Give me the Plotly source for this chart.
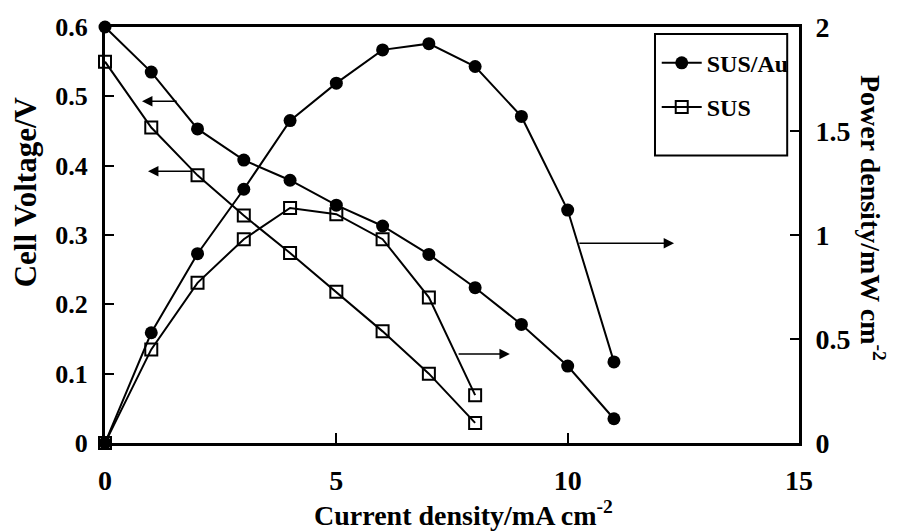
import plotly.graph_objects as go

# Current density (mA cm^-2)
current_au = [0, 1, 2, 3, 4, 5, 6, 7, 8, 9, 10, 11]
current_sus = [0, 1, 2, 3, 4, 5, 6, 7, 8]

# Cell voltage (V)
voltage_au = [0.60, 0.535, 0.453, 0.408, 0.379, 0.343, 0.313, 0.272, 0.224, 0.171, 0.111, 0.035]
voltage_sus = [0.55, 0.455, 0.386, 0.328, 0.274, 0.218, 0.161, 0.100, 0.029]

# Power density (mW cm^-2)
power_au = [0.0, 0.53, 0.91, 1.22, 1.55, 1.73, 1.89, 1.92, 1.81, 1.57, 1.12, 0.39]
power_sus = [0.0, 0.45, 0.77, 0.98, 1.13, 1.10, 0.98, 0.70, 0.23]

x_ticks = [0, 5, 10, 15]
y_ticks = [0, 0.1, 0.2, 0.3, 0.4, 0.5, 0.6]
y2_ticks = [0, 0.5, 1, 1.5, 2]
y2_labels = ["0", "0.5", "1", "1.5", "2"]

FONT = "Liberation Serif"
BLACK = "#000000"

au_marker = dict(symbol="circle", size=13, color=BLACK)
sus_marker = dict(symbol="square-open", size=12, color=BLACK, line=dict(width=2, color=BLACK))
line_style = dict(color=BLACK, width=2)

fig = go.Figure()
fig.add_trace(go.Scatter(x=current_au, y=voltage_au, mode="lines+markers", name="SUS/Au",
                         legendgroup="au", marker=au_marker, line=line_style, cliponaxis=False))
fig.add_trace(go.Scatter(x=current_au, y=power_au, mode="lines+markers", name="SUS/Au",
                         legendgroup="au", showlegend=False, yaxis="y2",
                         marker=au_marker, line=line_style, cliponaxis=False))
fig.add_trace(go.Scatter(x=current_sus, y=voltage_sus, mode="lines+markers", name="SUS",
                         legendgroup="sus", marker=sus_marker, line=line_style, cliponaxis=False))
fig.add_trace(go.Scatter(x=current_sus, y=power_sus, mode="lines+markers", name="SUS",
                         legendgroup="sus", showlegend=False, yaxis="y2",
                         marker=sus_marker, line=line_style, cliponaxis=False))

left_tick_font = dict(family=FONT, size=26, color=BLACK, weight="bold")
tick_font = dict(family=FONT, size=28, color=BLACK, weight="bold")
title_font = dict(family=FONT, size=28, color=BLACK, weight="bold")

fig.update_layout(
    width=901, height=531,
    margin=dict(l=105, r=102, t=22, b=88),
    paper_bgcolor="white", plot_bgcolor="white",
    showlegend=True,
    legend=dict(x=0.795, y=0.967, xanchor="left", yanchor="top",
                font=dict(family=FONT, size=24, color=BLACK, weight="bold"),
                bgcolor="rgba(0,0,0,0)", borderwidth=0,
                traceorder="grouped", tracegroupgap=10, itemwidth=40),
    xaxis=dict(range=[0, 15], tickvals=x_ticks, ticks="inside", ticklen=10, tickwidth=2,
               tickcolor=BLACK, showline=True, linewidth=3, linecolor=BLACK, mirror=True,
               showgrid=False, zeroline=False, tickfont=tick_font, ticklabelstandoff=10),
    yaxis=dict(range=[0, 0.6], tickvals=y_ticks, ticks="inside", ticklen=9, tickwidth=2,
               tickcolor=BLACK, showline=True, linewidth=3, linecolor=BLACK,
               showgrid=False, zeroline=False, tickfont=left_tick_font, ticklabelstandoff=9),
    yaxis2=dict(range=[0, 2], tickvals=y2_ticks, ticktext=y2_labels, overlaying="y", side="right",
                ticks="inside", ticklen=9, tickwidth=2, tickcolor=BLACK,
                showline=True, linewidth=3, linecolor=BLACK,
                showgrid=False, zeroline=False, tickfont=tick_font, ticklabelstandoff=8),
    shapes=[dict(type="rect", xref="paper", yref="paper",
                 x0=0.7925, x1=0.983, y0=0.691, y1=0.983,
                 line=dict(color=BLACK, width=2), fillcolor="rgba(0,0,0,0)")],
)

annotations = [
    dict(text="Current density/mA cm<sup>-2</sup>", xref="paper", yref="paper",
         x=0.517, y=-0.169, xanchor="center", yanchor="middle", showarrow=False, font=title_font),
    dict(text="Cell Voltage/V", xref="paper", yref="paper", textangle=-90,
         x=-0.115, y=0.603, xanchor="center", yanchor="middle", showarrow=False,
         font=dict(family=FONT, size=31, color=BLACK, weight="bold")),
    dict(text="Power density/mW cm<sup>-2</sup>", xref="paper", yref="paper", textangle=90,
         x=1.106, y=0.542, xanchor="center", yanchor="middle", showarrow=False, font=title_font),
]

# Arrows pointing each curve family to its axis
arrows = [
    ("y", 1.58, 0.493, 0.80, 0.493),
    ("y", 1.89, 0.392, 0.93, 0.392),
    ("y2", 7.61, 0.428, 8.75, 0.428),
    ("y2", 10.22, 0.96, 12.30, 0.96),
]
for yref, x_tail, y_tail, x_head, y_head in arrows:
    annotations.append(dict(x=x_head, y=y_head, ax=x_tail, ay=y_tail, xref="x", yref=yref,
                            axref="x", ayref=yref, showarrow=True, arrowhead=2, arrowsize=1.3,
                            arrowwidth=1.6, arrowcolor=BLACK, text=""))

fig.update_layout(annotations=annotations)

fig.write_html("out.html")
